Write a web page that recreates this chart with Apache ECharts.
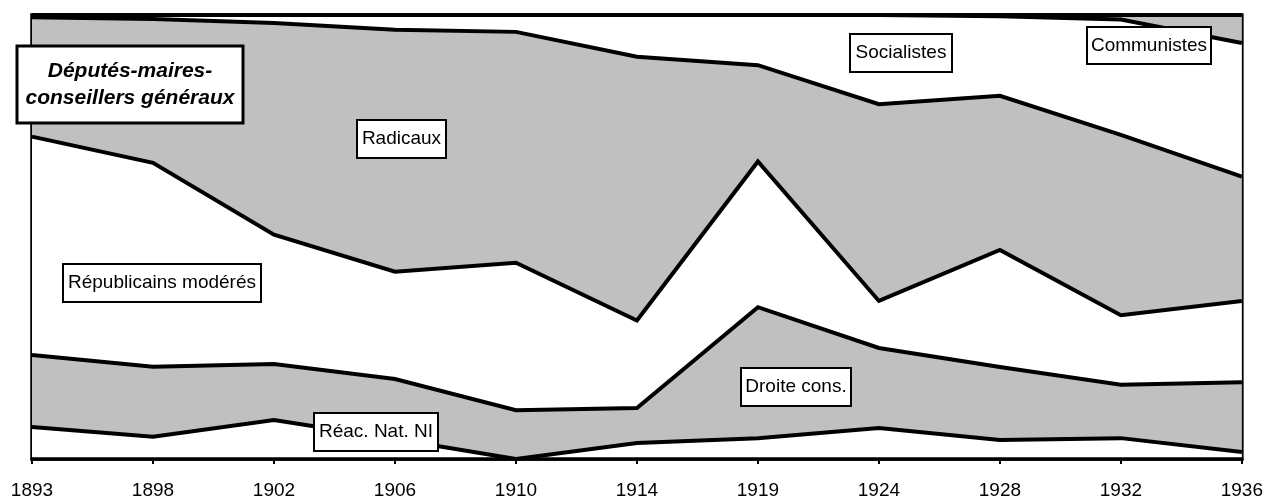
<!DOCTYPE html>
<html>
<head>
<meta charset="utf-8">
<script src="https://cdn.jsdelivr.net/npm/echarts@6/dist/echarts.min.js"></script>
<style>
  html, body { margin: 0; padding: 0; background: #fff; }
  #chart { width: 1266px; height: 500px; }
</style>
</head>
<body>
<div id="chart"></div>
<script>
// Share of each political group (percent), stacked from the bottom up
const years = ['1893', '1898', '1902', '1906', '1910', '1914', '1919', '1924', '1928', '1932', '1936'];
const reacNatNI   = [7.2, 5.0, 8.8, 4.5, 0.0, 3.6, 4.7, 7.0, 4.3, 4.7, 1.6];
const droiteCons  = [16.2, 15.8, 12.6, 13.5, 11.0, 7.9, 29.5, 18.0, 16.4, 12.0, 15.7];
const republicains = [49.2, 45.9, 29.1, 24.2, 33.2, 19.7, 32.8, 10.6, 26.4, 15.7, 18.3];
const radicaux    = [26.9, 32.4, 47.7, 54.5, 52.0, 59.4, 21.7, 44.3, 34.7, 40.6, 28.0];
const socialistes = [0.5, 0.9, 1.8, 3.3, 3.8, 9.4, 11.3, 20.1, 17.9, 26.0, 30.1];
const communistes = [0.0, 0.0, 0.0, 0.0, 0.0, 0.0, 0.0, 0.0, 0.3, 1.0, 6.3];

const FONT = "'Liberation Sans', Arial, sans-serif";
const GREY = '#c0c0c0';

function band(name, values, fill) {
  return {
    name: name,
    type: 'line',
    stack: 'total',
    data: values,
    symbol: 'none',
    silent: true,
    lineStyle: { color: '#000', width: 4, join: 'miter' },
    areaStyle: { color: fill, opacity: 1 },
    z: 2
  };
}

// Boxed annotation placed on the plot
function boxLabel(text, x, y, w, h, opts) {
  opts = opts || {};
  return [
    {
      type: 'rect',
      z: 100,
      silent: true,
      shape: { x: x, y: y, width: w, height: h },
      style: { fill: '#fff', stroke: '#000', lineWidth: opts.border || 2 }
    },
    {
      type: 'text',
      z: 101,
      silent: true,
      x: x + w / 2,
      y: y + h / 2,
      style: {
        text: text,
        fill: '#000',
        font: opts.font || ('19px ' + FONT),
        align: 'center',
        verticalAlign: 'middle',
        lineHeight: opts.lineHeight || 22
      }
    }
  ];
}

const chart = echarts.init(document.getElementById('chart'), null, { renderer: 'canvas' });

chart.setOption({
  animation: false,
  backgroundColor: '#fff',
  grid: {
    left: 32, right: 23, top: 15, bottom: 41,
    show: true, borderColor: '#000', borderWidth: 3.5, backgroundColor: 'transparent'
  },
  xAxis: {
    type: 'category',
    data: years,
    boundaryGap: false,
    axisLine: { lineStyle: { color: '#000', width: 3.5 } },
    axisTick: { show: true, length: 5, lineStyle: { color: '#000', width: 2 } },
    axisLabel: { color: '#000', fontFamily: FONT, fontSize: 19, margin: 22 },
    splitLine: { show: false },
    z: 10
  },
  yAxis: {
    type: 'value',
    min: 0,
    max: 100,
    axisLine: { show: false },
    axisTick: { show: false },
    axisLabel: { show: false },
    splitLine: { show: false }
  },
  series: [
    band('Réac. Nat. NI', reacNatNI, '#fff'),
    band('Droite cons.', droiteCons, GREY),
    band('Républicains modérés', republicains, '#fff'),
    band('Radicaux', radicaux, GREY),
    band('Socialistes', socialistes, '#fff'),
    band('Communistes', communistes, GREY)
  ],
  graphic: [].concat(
    boxLabel('Députés-maires-\nconseillers généraux', 17, 46, 226, 77,
      { border: 3, font: 'italic bold 21px ' + FONT, lineHeight: 27 }),
    boxLabel('Radicaux', 357, 120, 89, 38),
    boxLabel('Socialistes', 850, 34, 102, 38),
    boxLabel('Communistes', 1087, 27, 124, 37),
    boxLabel('Républicains modérés', 63, 264, 198, 38),
    boxLabel('Droite cons.', 741, 368, 110, 38),
    boxLabel('Réac. Nat. NI', 314, 413, 124, 38)
  )
});
</script>
</body>
</html>
